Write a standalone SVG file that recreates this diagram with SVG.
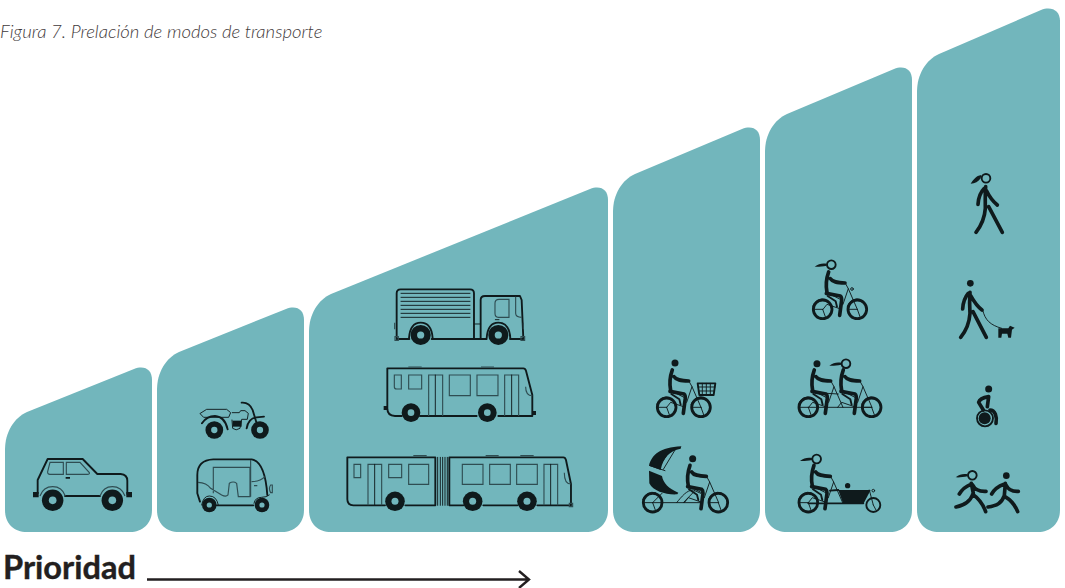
<svg xmlns="http://www.w3.org/2000/svg" width="1065" height="588" viewBox="0 0 1065 588">
<style>
.panel{fill:#72b6bc}
.i{fill:none;stroke:#0f1a1c;stroke-linecap:round;stroke-linejoin:round}
.t{stroke-width:2.8}.m{stroke-width:5.6}.th{stroke-width:11}.w8{stroke-width:8.5}
.g{fill:none;stroke:#2f4d52;stroke-width:3.4}
.f{fill:#0f1a1c}
.hub{fill:#72b6bc}
</style>
<defs>
<g id="bigw"><circle r="28" class="f"/><circle r="10" class="hub"/></g>
<g id="bw"><circle r="28" class="i w8"/><path class="i t" d="M-30-9A31 31 0 0 1 9-30M0 0L-25 0M0 0L8 22"/></g>
<g id="rider"><path class="i th" d="M17-112C9-90 8-70 12-50M22-92C28-82 42-80 66-79"/><path class="i th" d="M10-48L52-40Q58-36 55-20L50 18"/><path class="i m" d="M14-40L38-24L42-8"/><path class="i t" d="M66-80L76-62L60-15M76-62L103 0M52-30L12-50M50-2L12-15L0 0"/></g>
<g id="mh"><circle r="10.5" class="f"/></g>
<g id="wh"><circle r="13" class="i m"/><path class="f" d="M-14-3C-28-5-38-3-50 6C-38 7-28 5-14 3Z"/></g>
</defs>

<g id="title"><text x="0" y="37.5" font-family="Lato,'Liberation Sans',sans-serif" font-style="italic" font-weight="300" font-size="18.55" fill="#3f3a3b">Figura 7. Prelación de modos de transporte</text></g>

<g id="panel-auto"><path class="panel" d="M5 450C5 432 14 418 27 412L134 369C145 365 152 370 152 380V510C152 524 142 532 130 532H27C14 532 5 524 5 510Z"/>
<g id="car" transform="translate(0,360) scale(.3333)">
<path class="i m" d="M113 400V360L143 297H248L292 342H362Q382 344 382 362V402M195 408H300"/>
<path class="g" d="M150 307H190V343H150Q142 343 143 335ZM199 307H240L268 338Q270 343 262 343H199ZM120 408Q130 380 158 380Q186 380 196 408M300 408Q310 380 337 380Q365 380 375 408"/>
<path class="f" d="M99 396H116V412H99ZM379 396H396V412H379ZM197 351H210V356H197Z"/>
<use href="#bigw" transform="translate(158,421) scale(1.15)"/><use href="#bigw" transform="translate(337,421) scale(1.15)"/>
</g></g>

<g id="panel-moto"><path class="panel" d="M157 390C157 372 166 358 179 352L286 309C297 305 304 310 304 320V510C304 524 294 532 282 532H179C166 532 157 524 157 510Z"/>
<g id="moto" transform="translate(0,360) scale(.3333)">
<path class="i t" d="M601 160L620 148H680L692 158L686 172H612ZM697 158H718L722 152H735L745 160L742 178H725L720 205Q708 214 698 205L696 180"/>
<path class="i m" d="M725 128Q748 126 758 150L770 190M606 190Q620 168 645 168Q675 170 683 208M740 205Q745 175 770 172L792 170"/>
<path class="f" d="M698 182H725V200H698Z"/>
<g transform="translate(643,210) scale(.95)"><use href="#bigw"/></g><g transform="translate(780,210) scale(.95)"><use href="#bigw"/></g>
<path class="i m" d="M600 425L592 400V345Q592 300 640 298H755Q795 305 802 405M650 436H760"/>
<path class="g" d="M640 400V322H750V410H715L710 370Q700 362 688 370L684 405Q678 412 665 405L632 385Q620 368 594 367M752 300V410M755 365Q780 365 795 350M762 377H772M812 375Q805 385 812 398H817V375Z"/>
<path class="i t" d="M605 435Q610 408 628 408Q650 408 655 435M762 430Q765 412 785 412Q800 412 808 405"/>
<g transform="translate(628,435) scale(.78)"><use href="#bigw"/></g><g transform="translate(786,435) scale(.78)"><use href="#bigw"/></g>
</g></g>

<g id="panel-bus"><path class="panel" d="M309 332C309 314 318 300 331 294L590 189C601 185 608 190 608 200V510C608 524 598 532 586 532H331C318 532 309 524 309 510Z"/>
<g id="truck" transform="translate(330,280) scale(.3333)">
<path class="i m" d="M200 175V40Q200 28 212 28H420Q432 28 432 40V175M200 177H238M305 177H470M540 177H580M452 175V60Q452 48 465 48H570L575 60L580 175M237 175Q240 128 272 128Q305 128 308 175M470 175Q473 128 505 128Q538 128 541 175"/>
<path class="i t" d="M213 40H420M213 52H420M213 64H420M213 76H420M213 88H420M213 100H420M213 112H420M432 132H452M496 119H507"/>
<path class="g" d="M495 70Q495 58 507 58H537V112H505Q495 112 495 100ZM557 50V100Q557 112 575 112M194 128V148M580 128V148"/>
<path class="g" d="M195 170H205V181H195ZM573 170H584V181H573Z"/>
<use href="#bigw" transform="translate(272,165) scale(1.08)"/><use href="#bigw" transform="translate(505,165) scale(1.08)"/>
</g>
<g id="bus" transform="translate(330,280) scale(.3333)">
<path class="i m" d="M215 408H195Q172 408 172 385V265H580Q586 265 588 272L607 345V408H505M440 408H270"/>
<path class="g" d="M193 285H214V327H200Q193 327 193 320ZM236 285H275V327H236ZM296 408V285H338V408M358 285H421V347H358ZM441 285H504V347H441ZM524 408V285H566V408M587 320Q587 347 607 347M235 261H275M453 261H492"/>
<path class="i t" d="M316 285V408M545 285V408"/>
<path class="f" d="M161 378H172V390H161ZM607 393H618V405H607Z"/>
<use href="#bigw" transform="translate(243,398)"/><use href="#bigw" transform="translate(472,398)"/>
</g>
<g id="articulated" transform="translate(330,280) scale(.3333)">
<path class="i m" d="M165 676H70Q52 676 52 658V532H316V676H226M400 676H358V532H700Q706 532 708 540L723 612V676H622M562 676H460"/>
<path class="g" d="M72 553H92V593H72ZM176 553H215V593H176ZM114 676V553H155V676M236 553H296V613H236ZM397 553H459V613H397ZM479 553H541V613H479ZM560 553H622V613H560ZM642 676V553H683V676M703 578Q703 612 723 612M250 527H290M467 527H506M571 527H611M718 670H728V680H718Z"/>
<path class="i t" d="M134 553V676M662 553V676M323 532V676M331 532V676M338 532V676M345 532V676M352 532V676"/>
<use href="#bigw" transform="translate(195,664) scale(1.05)"/><use href="#bigw" transform="translate(428,664) scale(1.05)"/><use href="#bigw" transform="translate(591,664) scale(1.05)"/>
</g></g>

<g id="panel-cargo-bike"><path class="panel" d="M613 212C613 194 622 180 635 174L742 129C753 125 760 130 760 140V510C760 524 750 532 738 532H635C622 532 613 524 613 510Z"/>
<g id="bike-basket" transform="translate(630,350) scale(.3333)">
<use href="#bw" x="110" y="172"/><use href="#bw" x="213" y="172"/>
<use href="#mh" x="135" y="39"/><use href="#rider" x="110" y="172"/>
<path class="i m" d="M203 100H256L251 135H208Z"/><path class="i t" d="M204 111H255M205 123H253M217 100V135M229 100V135M241 100V135"/>
</g>
<g id="rickshaw" transform="translate(630,350) scale(.3333)">
<use href="#bw" x="68" y="458"/><use href="#bw" x="265" y="458"/>
<use href="#mh" x="188" y="326"/><use href="#rider" x="163" y="458"/>
<path class="f" d="M57 347C65 315 90 292 154 289L152 296C118 303 100 322 92 360Z"/>
<path class="i t" d="M80 350L95 312M85 352L118 305M100 358L135 300M60 347L105 362"/>
<path class="f" d="M57 362L96 378C100 400 115 415 145 428L142 433C110 435 70 425 58 400Z"/>
<path class="i t" d="M96 430L68 458M68 458H215M140 458C155 440 170 420 190 420L212 430M160 458L192 425"/>
</g></g>

<g id="panel-bikes"><path class="panel" d="M765 152C765 134 774 120 787 114L894 69C905 65 912 70 912 80V510C912 524 902 532 890 532H787C774 532 765 524 765 510Z"/>
<g id="bike-woman" transform="translate(790,250) scale(.3333)">
<use href="#bw" x="98" y="178"/><use href="#bw" x="202" y="178"/>
<use href="#wh" x="124" y="44"/><use href="#rider" x="99" y="178"/><circle cx="186" cy="117" r="4" class="i t"/>
</g>
<g id="tandem" transform="translate(630,350) scale(.3333)">
<use href="#bw" x="535" y="172"/><use href="#bw" x="725" y="172"/>
<use href="#mh" x="561" y="41"/><use href="#wh" x="648" y="41"/>
<use href="#rider" x="536" y="172"/><use href="#rider" x="623" y="172"/>
<path class="i t" d="M535 172H725M590 130L625 132"/>
</g>
<g id="cargo" transform="translate(630,350) scale(.3333)">
<use href="#bw" x="535" y="458"/><use href="#wh" x="560" y="327"/><use href="#rider" x="535" y="458"/>
<circle cx="730" cy="465" r="21" class="i m"/><path class="i t" d="M730 465L738 480M730 465L718 420"/>
<circle cx="653" cy="407" r="8" class="f"/><circle cx="730" cy="422" r="4" class="i t"/>
<path class="f" d="M625 420H722L700 462H640Z"/>
<path class="i m" d="M535 460H700M600 422L625 420"/>
</g></g>

<g id="panel-walk"><path class="panel" d="M917 92C917 74 926 60 939 54L1041 10C1052 6 1060 11 1060 21V510C1060 524 1050 532 1038 532H939C926 532 917 524 917 510Z"/>
<g id="walker" transform="translate(940,165) scale(.3333)">
<path class="i th" d="M137 65C135 90 136 115 136 130C134 160 125 180 108 202M146 125L187 202M133 70C118 85 115 100 114 118M140 78C148 95 160 110 172 120"/>
<circle cx="138" cy="40" r="13" class="i m"/><path class="f" d="M124 30C108 32 100 45 92 56C105 56 115 50 122 40Z"/>
</g>
<g id="walker-dog" transform="translate(940,165) scale(.3333)">
<circle cx="91" cy="355" r="10" class="f"/>
<path class="i th" d="M90 382C88 410 89 430 90 445C88 475 80 495 62 517M99 440L139 517M85 385C72 400 69 415 68 432M92 392C102 410 112 425 126 435"/>
<path class="i t" d="M128 435C135 465 150 480 185 490"/>
<path class="f" d="M175 490H205L210 482L224 488L216 494L213 518H205L202 506H186L184 518H175Z"/>
</g>
<g id="wheelchair" transform="translate(940,375) scale(.3333)">
<circle cx="146" cy="42" r="10.5" class="f"/>
<path class="i th" d="M146 65C128 68 118 75 116 82L130 105M146 65L142 95"/>
<circle cx="135" cy="130" r="24" class="i m"/><circle cx="134" cy="130" r="18" class="f"/>
<path class="i th" d="M150 105C165 105 172 125 168 145"/>
</g>
<g id="runners" transform="translate(940,375) scale(.3333)">
<use href="#wh" x="97" y="301"/>
<circle cx="199" cy="302" r="10" class="f"/>
<path class="i th" d="M94 325L100 355C90 380 75 390 48 396M98 358C115 370 128 385 137 410M92 328C75 335 65 345 58 357M98 330C105 345 118 350 138 349"/>
<path class="i th" d="M196 325L193 362C185 385 170 392 144 396M195 365C212 375 225 390 233 410M192 328C172 335 162 345 155 357M198 330C205 345 218 350 235 349"/>
</g></g>

<g id="prioridad"><text x="3" y="579" font-family="Lato,'Liberation Sans',sans-serif" font-weight="700" font-size="32.6" fill="#231f20" stroke="#231f20" stroke-width=".4">Prioridad</text></g>
<g id="connectors"><path d="M147 579.5H529M519 571L529 579.5L519 588" fill="none" stroke="#231f20" stroke-width="2.4"/></g>
</svg>
